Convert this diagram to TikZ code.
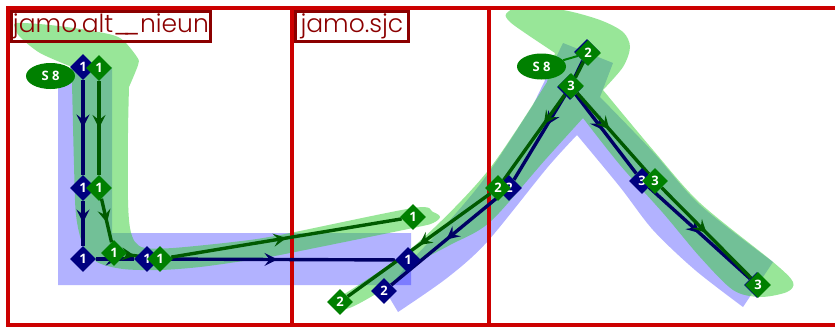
\documentclass[tikz,border=0pt]{standalone}
\usepackage{fontspec}
\setsansfont{Open Sans}
\newfontfamily\glyphname{Poppins Light}
\usetikzlibrary{positioning,arrows.meta,shapes.geometric,decorations.markings}
\definecolor{framered}{RGB}{204,0,0}
\definecolor{labelred}{RGB}{139,0,0}
\definecolor{ptblue}{RGB}{0,0,128}
\definecolor{ptgreen}{RGB}{0,128,0}
\definecolor{lineblue}{RGB}{0,0,100}
\definecolor{linegreen}{RGB}{0,90,0}
\definecolor{fillgreen}{RGB}{50,205,50}
\pgfdeclarelayer{pts}
\pgfsetlayers{main,pts}
\tikzset{midarrow/.style={postaction={decorate},decoration={markings,mark=at position #1 with {\arrow{>}}}},midarrow/.default=.5}
\begin{document}
\begin{tikzpicture}[x=1pt, y=-1pt, >={Stealth[length=13pt,width=13pt,inset=5pt]}, every node/.style={font=\sffamily\bfseries\fontsize{13}{14}\selectfont, text=white}]
\tikzstyle{frame}=[draw=framered, line width=3.4pt]
\tikzstyle{jamolabel}=[draw=labelred, line width=2.8pt, anchor=north west, inner sep=0pt, minimum height=30pt, font=\glyphname\fontsize{25}{26}\selectfont, text=labelred]
\tikzstyle{bluefill}=[fill=blue, fill opacity=.3]
\tikzstyle{greenfill}=[fill=fillgreen, fill opacity=.5]
\tikzstyle{bluept}=[diamond, fill=ptblue, inner sep=0pt, minimum size=26pt]
\tikzstyle{greenpt}=[diamond, fill=ptgreen, inner sep=0pt, minimum size=26pt]
\tikzstyle{startpt}=[ellipse, fill=ptgreen, inner sep=0pt, minimum width=49pt, minimum height=26pt]
\tikzstyle{blueline}=[draw=lineblue, line width=3.4pt]
\tikzstyle{greenline}=[draw=linegreen, line width=3.4pt]
\useasboundingbox (0,0) rectangle (835,327);
% glyph fills
\fill[bluefill] (58,84) -- (72,67) -- (112,67) -- (112,233) -- (411,233) -- (411,285) -- (58,285) -- cycle;
\fill[bluefill] (563,43) -- (613,63) -- (600,97) -- plot[smooth, tension=.5] coordinates {(600,97) (653,152) (700,205) (773,262)} -- plot[smooth, tension=.5] coordinates {(743,307) (695,270) (653,230) (620,187) (577,135)} -- plot[smooth, tension=.5] coordinates {(577,135) (547,168) (487,242) (447,278) (398,312)} -- plot[smooth, tension=.5] coordinates {(386,292) (410,262) (450,220) (487,175) (533,105)} -- cycle;
\fill[greenfill] plot[smooth, tension=.5] coordinates {(72,67) (40,53) (20,37) (15,28) (17,23) (50,25) (93,31) (120,38) (137,57) (138,65) (129,87)} -- plot[smooth, tension=.5] coordinates {(129,87) (128,133) (128,200) (130,228) (135,242) (145,248) (173,248) (233,242) (280,235) (413,208) (433,212) (440,217) (433,223) (413,228) (280,255) (250,260) (200,267) (160,270) (123,269) (97,262) (83,245) (76,215) (74,165) (72,83)} -- cycle;
\fill[greenfill] plot[smooth, tension=.5] coordinates {(555,53) (528,35) (510,22) (506,14) (520,7) (563,10) (600,20) (623,32) (630,47) (623,67) (603,90)} -- plot[smooth, tension=.5] coordinates {(603,90) (653,150) (700,203) (773,262) (793,282) (787,292) (760,297) (733,290) (700,257) (663,213) (620,165) (583,118)} -- plot[smooth, tension=.5] coordinates {(583,118) (545,160) (490,222) (450,245) (413,265) (390,285) (360,303) (345,309) (336,303)} -- plot[smooth, tension=.5] coordinates {(338,298) (413,247) (487,172) (547,82)} -- cycle;
% frames
\draw[frame] (8,8) rectangle (292,325);
\draw[frame] (292,8) rectangle (489,325);
\draw[frame] (835,8) -- (489,8) -- (489,325) -- (835,325);
\node[jamolabel, minimum width=199pt] (altlabel) at (10,10) {jamo.alt\_\kern-7pt\_nieun};
\node[jamolabel, minimum width=113pt] (sjclabel) at (294,10) {jamo.sjc};
\begin{pgfonlayer}{pts}
\node[startpt] (startn) at (50.5,76) {S 8};
\node[startpt] (starts) at (541.5,66.5) {S 8};
% blue points
\node[bluept] (bn1) at (83,67) {1};
\node[bluept] (bn2) at (83,188) {1};
\node[bluept] (bn3) at (83,259) {1};
\node[bluept] (bn4) at (147,259) {1};
\node[bluept] (bn5) at (408,260) {1};
\node[bluept] (bs1) at (587,52) {2};
\node[bluept] (bs2) at (570,87) {3};
\node[bluept] (bs3) at (509,188) {2};
\node[bluept] (bs4) at (384,291) {2};
\node[bluept] (bs5) at (642,181) {3};
\node[bluept] (bs6) at (757,285) {3};
% green points
\node[greenpt] (gn1) at (99,68) {1};
\node[greenpt] (gn2) at (99,188) {1};
\node[greenpt] (gn3) at (114,253) {1};
\node[greenpt] (gn4) at (160,259) {1};
\node[greenpt] (gn5) at (413,217) {1};
\node[greenpt] (gs1) at (588,53) {2};
\node[greenpt] (gs2) at (571,86) {3};
\node[greenpt] (gs3) at (498,188) {2};
\node[greenpt] (gs4) at (340,302) {2};
\node[greenpt] (gs5) at (655,181) {3};
\node[greenpt] (gs6) at (758,285) {3};
\end{pgfonlayer}
% strokes
\draw[blueline, midarrow] (bn1) -- (bn2);
\draw[blueline, midarrow=.48] (bn2) -- (bn3);
\draw[blueline, midarrow=.6] (bn3) -- (bn4);
\draw[blueline, midarrow=.5] (bn4) -- (bn5);
\draw[blueline] (bs1) -- (bs2);
\draw[blueline, midarrow=.35] (bs2) -- (bs3);
\draw[blueline, midarrow=.5] (bs3) -- (bs4);
\draw[blueline, midarrow=.45] (bs2) -- (bs5);
\draw[blueline, midarrow=.5] (bs5) -- (bs6);
\draw[greenline, midarrow] (gn1) -- (gn2);
\draw[greenline, midarrow=.55] (gn2) -- (gn3);
\draw[greenline, midarrow=.4] (gn3) -- (gn4);
\draw[greenline, midarrow=.5] (gn4) -- (gn5);
\draw[greenline] (gs1) -- (gs2);
\draw[greenline, midarrow=.35] (gs2) -- (gs3);
\draw[greenline, midarrow=.5] (gs3) -- (gs4);
\draw[greenline, midarrow=.45] (gs2) -- (gs5);
\draw[greenline, midarrow=.5] (gs5) -- (gs6);
\draw[draw=ptgreen, line width=2pt] (starts) -- (gs1);
\end{tikzpicture}
\end{document}
